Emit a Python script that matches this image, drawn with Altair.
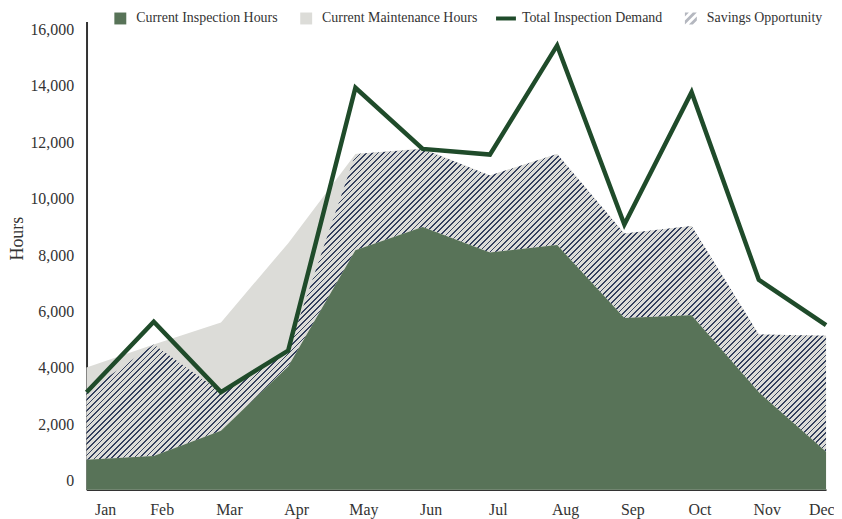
import math
import altair as alt
import pandas as pd

# ---------------- data ----------------
months = ["Jan", "Feb", "Mar", "Apr", "May", "Jun", "Jul", "Aug", "Sep", "Oct", "Nov", "Dec"]
inspection = [1060, 1190, 2090, 4370, 8490, 9310, 8410, 8670, 6090, 6180, 3450, 1340]
maintenance = [3270, 3960, 3840, 4370, 3410, 2790, 2730, 3230, 2990, 3170, 2050, 4120]
demand = [3450, 5950, 3460, 4930, 14250, 12080, 11880, 15750, 9400, 14090, 7440, 5830]
y_ticks = [0, 2000, 4000, 6000, 8000, 10000, 12000, 14000, 16000]

series_names = ["Current Inspection Hours", "Current Maintenance Hours",
                "Total Inspection Demand", "Savings Opportunity"]
series_colors = ["#587358", "#dcdcd8", "#1f4b2a", "#b4b7bf"]

# derived series
capacity = [i + m for i, m in zip(inspection, maintenance)]
savings_top = [min(d, c) for d, c in zip(demand, capacity)]

df = pd.DataFrame({
    "month": months,
    "inspection": inspection,
    "capacity": capacity,
    "savings_top": savings_top,
    "demand": demand,
})

# ---------------- layout ----------------
W, H = 744, 471
Y_MAX = 16600
FONT = "Liberation Serif"
TEXT = "#333333"

# ---------------- hatch pattern via a striped linear gradient ----------------
NAVY = "#34405e"
LIGHT = "#dcdcd8"
bw = W
bh = (max(savings_top) - min(inspection)) / Y_MAX * H
k = (bw + bh) / (bw ** 2 + bh ** 2)
gx2, gy2 = k * bw, k * bh
period_h = 5.6
perp = period_h / math.sqrt(2)
span = (bw + bh) / math.sqrt(2)
n = int(round(span / perp))
dark = 0.3
stops = []
for i in range(n):
    a = i / n
    b = (i + dark) / n
    e = (i + 1) / n
    stops += [
        alt.GradientStop(offset=round(a, 6), color=NAVY),
        alt.GradientStop(offset=round(b, 6), color=NAVY),
        alt.GradientStop(offset=round(b, 6), color=LIGHT),
        alt.GradientStop(offset=round(e, 6), color=LIGHT),
    ]
hatch = alt.LinearGradient(gradient="linear", stops=stops,
                           x1=0, y1=0, x2=round(gx2, 5), y2=round(gy2, 5))

# ---------------- legend symbols ----------------
sq = "M-0.6,-0.6L0.6,-0.6L0.6,0.6L-0.6,0.6Z"
bar = "M-1,-0.2L1,-0.2L1,0.2L-1,0.2Z"
stripes = ("M-0.6,-0.6L-0.2,-0.6L-0.6,-0.2Z"
           "M0.2,-0.6L0.6,-0.6L-0.6,0.6L-0.6,0.2Z"
           "M0.6,-0.2L0.6,0.2L0.2,0.6L-0.2,0.6Z")
sym_expr = ("datum.label == 'Total Inspection Demand' ? '%s' : "
            "(datum.label == 'Savings Opportunity' ? '%s' : '%s')") % (bar, stripes, sq)

color_scale = alt.Scale(domain=series_names, range=series_colors)
legend = alt.Legend(
    title=None, orient="none", legendX=24, legendY=-13, direction="horizontal",
    symbolType={"expr": sym_expr}, symbolSize=400, symbolStrokeWidth=0,
    symbolOpacity=1, labelFont=FONT, labelFontSize=14, labelColor=TEXT,
    labelOffset=6, columnPadding=18,
)

x_enc = alt.X("month:N", sort=months,
              scale=alt.Scale(type="point", padding=0),
              axis=alt.Axis(title=None, labelAngle=0, labelFont=FONT, labelFontSize=16,
                            labelColor=TEXT, labelPadding=12, labelOffset=8, labelFlush=True,
                            ticks=False, grid=False, domainColor=TEXT, domainWidth=2))
y_scale = alt.Scale(domain=[0, Y_MAX], nice=False, zero=True)
y_axis = alt.Axis(title="Hours", values=y_ticks, format=",d", labelFont=FONT,
                  labelFontSize=16, labelColor=TEXT, labelOffset=-9, labelPadding=13,
                  ticks=False, grid=False, domainColor=TEXT, domainWidth=2,
                  titleFont=FONT, titleFontSize=18, titleFontWeight="normal",
                  titleColor=TEXT, titlePadding=3, titleY=218)

base = alt.Chart(df)

maint_layer = base.transform_calculate(series="'Current Maintenance Hours'").mark_area(
    opacity=1, strokeWidth=0).encode(
    x=x_enc,
    y=alt.Y("capacity:Q", scale=y_scale, axis=y_axis),
    color=alt.Color("series:N", scale=color_scale, legend=legend),
)

hatch_layer = base.mark_area(fill=hatch, opacity=1, strokeWidth=0).encode(
    x=x_enc,
    y=alt.Y("savings_top:Q", scale=y_scale),
    y2=alt.Y2("inspection:Q"),
)

insp_layer = base.transform_calculate(series="'Current Inspection Hours'").mark_area(
    opacity=1, strokeWidth=0).encode(
    x=x_enc,
    y=alt.Y("inspection:Q", scale=y_scale),
    color=alt.Color("series:N", scale=color_scale),
)

line_layer = base.transform_calculate(series="'Total Inspection Demand'").mark_line(
    strokeWidth=4.5, strokeJoin="miter", strokeMiterLimit=10).encode(
    x=x_enc,
    y=alt.Y("demand:Q", scale=y_scale),
    color=alt.Color("series:N", scale=color_scale),
)

chart = alt.layer(maint_layer, hatch_layer, insp_layer, line_layer).properties(
    width=W, height=H,
    autosize=alt.AutoSizeParams(type="none"),
    padding={"left": 79, "top": 12, "right": 8, "bottom": 28},
    background="white",
).configure_view(stroke=None)

chart.save("out.html", embed_options={"renderer": "svg", "actions": False})
